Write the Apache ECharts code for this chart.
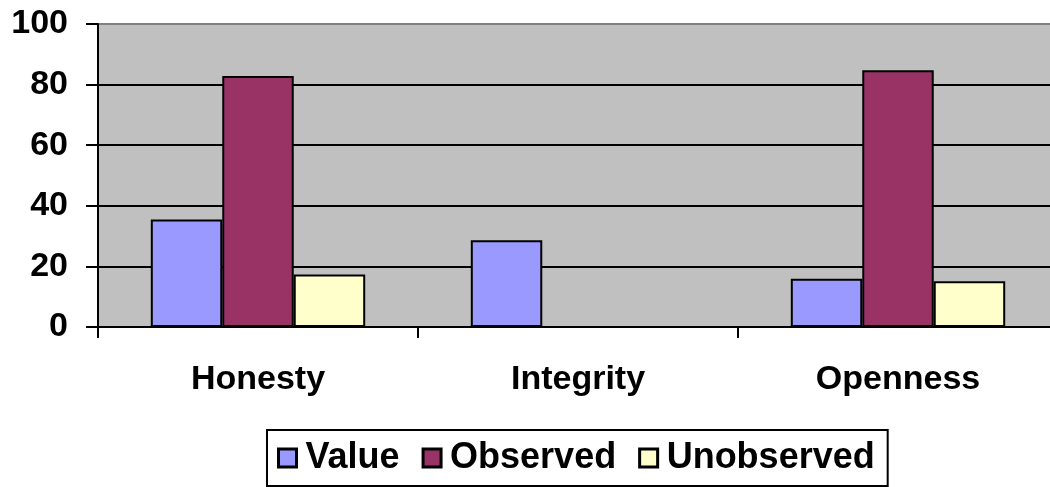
<!DOCTYPE html>
<html>
<head>
<meta charset="utf-8">
<script src="https://cdn.jsdelivr.net/npm/echarts@6/dist/echarts.min.js"></script>
<style>
  html, body { margin: 0; padding: 0; background: #fff; }
  #chart { width: 1050px; height: 487px; }
</style>
</head>
<body>
<div id="chart"></div>
<script>
// categories and series values
const categories = ['Honesty', 'Integrity', 'Openness'];
const valueData = [35.5, 28.6, 15.9];
const observedData = [82.8, null, 84.7];
const unobservedData = [17.3, null, 15.1];
const yTicks = [0, 20, 40, 60, 80, 100];

const font = '"Liberation Sans", Arial, sans-serif';

let myChart = echarts.init(document.getElementById('chart'));

function barSeries(name, data, color) {
  return {
    name: name,
    type: 'bar',
    data: data,
    barGap: '0%',
    barCategoryGap: '33%',
    itemStyle: {
      color: color,
      borderColor: '#000',
      borderWidth: 2
    }
  };
}

const option = {
  animation: false,
  backgroundColor: '#fff',
  textStyle: { fontFamily: font },
  // plot area runs past the right edge of the picture, as in the original
  grid: {
    left: 98,
    top: 24,
    width: 960,
    bottom: 160,
    outerBoundsMode: 'none',
    show: true,
    backgroundColor: '#C0C0C0',
    borderColor: '#808080',
    borderWidth: 2
  },
  legend: {
    left: 267,
    top: 430,
    padding: [10, 13, 10, 10],
    borderColor: '#000',
    borderWidth: 2,
    itemWidth: 18,
    itemHeight: 18,
    itemGap: 22,
    icon: 'rect',
    itemStyle: { borderColor: '#000', borderWidth: 3 },
    textStyle: {
      fontFamily: font,
      fontSize: 36,
      fontWeight: 'bold',
      color: '#000',
      padding: [0, 0, 0, 4]
    },
    data: ['Value', 'Observed', 'Unobserved']
  },
  xAxis: {
    type: 'category',
    data: categories,
    axisLine: { show: true, lineStyle: { color: '#000', width: 2 } },
    axisTick: { show: true, length: 11, lineStyle: { color: '#000', width: 2 } },
    axisLabel: {
      margin: 36,
      fontFamily: font,
      fontSize: 34,
      fontWeight: 'bold',
      color: '#000'
    },
    splitLine: { show: false }
  },
  yAxis: {
    type: 'value',
    min: yTicks[0],
    max: yTicks[yTicks.length - 1],
    interval: yTicks[1] - yTicks[0],
    axisLine: { show: true, lineStyle: { color: '#000', width: 2 } },
    axisTick: { show: true, length: 12, lineStyle: { color: '#000', width: 2 } },
    axisLabel: {
      margin: 30,
      fontFamily: font,
      fontSize: 34,
      fontWeight: 'bold',
      color: '#000'
    },
    splitLine: {
      show: true,
      lineStyle: {
        color: ['#000', '#000', '#000', '#000', '#000', '#808080'],
        width: 2
      }
    }
  },
  series: [
    barSeries('Value', valueData, '#9999FF'),
    barSeries('Observed', observedData, '#993366'),
    barSeries('Unobserved', unobservedData, '#FFFFCC')
  ]
};

myChart.setOption(option);
</script>
</body>
</html>
